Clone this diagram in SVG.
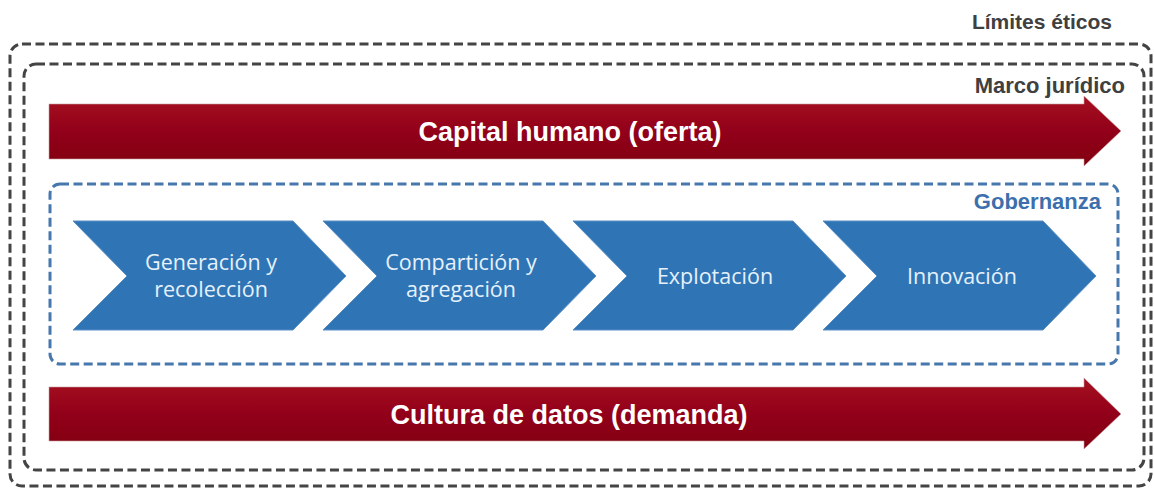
<svg xmlns="http://www.w3.org/2000/svg" width="1154" height="489" viewBox="0 0 1154 489">
<defs>
<linearGradient id="red" x1="0" y1="0" x2="0" y2="1">
<stop offset="0" stop-color="#a8101f"/>
<stop offset="0.15" stop-color="#a00c1e"/>
<stop offset="0.5" stop-color="#92001a"/>
<stop offset="1" stop-color="#820010"/>
</linearGradient>
<style>
.dash{fill:none;stroke:#444;stroke-width:3;stroke-dasharray:9 4.5}
.bdash{fill:none;stroke:#4677ad;stroke-width:3;stroke-dasharray:9 4.5}
.lbl{font-family:"Liberation Sans",Arial,sans-serif;font-weight:bold;font-size:22px;text-anchor:end}
.chev{fill:#2f75b5;stroke:#5b8fc4;stroke-width:1}
.ct{font-family:"Open Sans","Liberation Sans",sans-serif;font-size:21.5px;fill:#e6f1fb;text-anchor:middle}
.rt{font-family:"Liberation Sans",Arial,sans-serif;font-weight:bold;font-size:27px;fill:#fff;text-anchor:middle}
.arr{fill:url(#red);stroke:#c8a0a0;stroke-width:0.6}
</style>
</defs>
<rect width="1154" height="489" fill="#fff"/>
<g id="limites">
<rect class="dash" x="10" y="44" width="1141" height="442" rx="12"/>
<text class="lbl" x="1112" y="29" fill="#404040" style="font-size:21px">Límites éticos</text>
</g>
<g id="marco">
<rect class="dash" x="24" y="64" width="1120" height="406" rx="12"/>
<text class="lbl" x="1125" y="93" fill="#404040">Marco jurídico</text>
</g>
<g id="capital">
<path class="arr" d="M49 104 H1084 V96 L1121 131 L1084 166 V159 H49 Z"/>
<text class="rt" x="570" y="141">Capital humano (oferta)</text>
</g>
<g id="gobernanza">
<rect class="bdash" x="50" y="184" width="1068" height="180" rx="10"/>
<text class="lbl" x="1101" y="209" fill="#3c6fab">Gobernanza</text>
</g>
<g id="generacion">
<path class="chev" d="M73 221 H293 L346 276 L293 330 H73 L127 276 Z"/>
<text class="ct" x="211" y="270">Generación y</text>
<text class="ct" x="211" y="297">recolección</text>
</g>
<g id="comparticion">
<path class="chev" d="M323 221 H543 L596 276 L543 330 H323 L377 276 Z"/>
<text class="ct" x="461" y="270">Compartición y</text>
<text class="ct" x="461" y="297">agregación</text>
</g>
<g id="explotacion">
<path class="chev" d="M573 221 H793 L846 276 L793 330 H573 L627 276 Z"/>
<text class="ct" x="715" y="284">Explotación</text>
</g>
<g id="innovacion">
<path class="chev" d="M823 221 H1043 L1096 276 L1043 330 H823 L877 276 Z"/>
<text class="ct" x="962" y="284">Innovación</text>
</g>
<g id="cultura">
<path class="arr" d="M49 387 H1084 V378 L1121 414 L1084 449 V441 H49 Z"/>
<text class="rt" x="569" y="424">Cultura de datos (demanda)</text>
</g>
<g id="connectors"></g>
</svg>
